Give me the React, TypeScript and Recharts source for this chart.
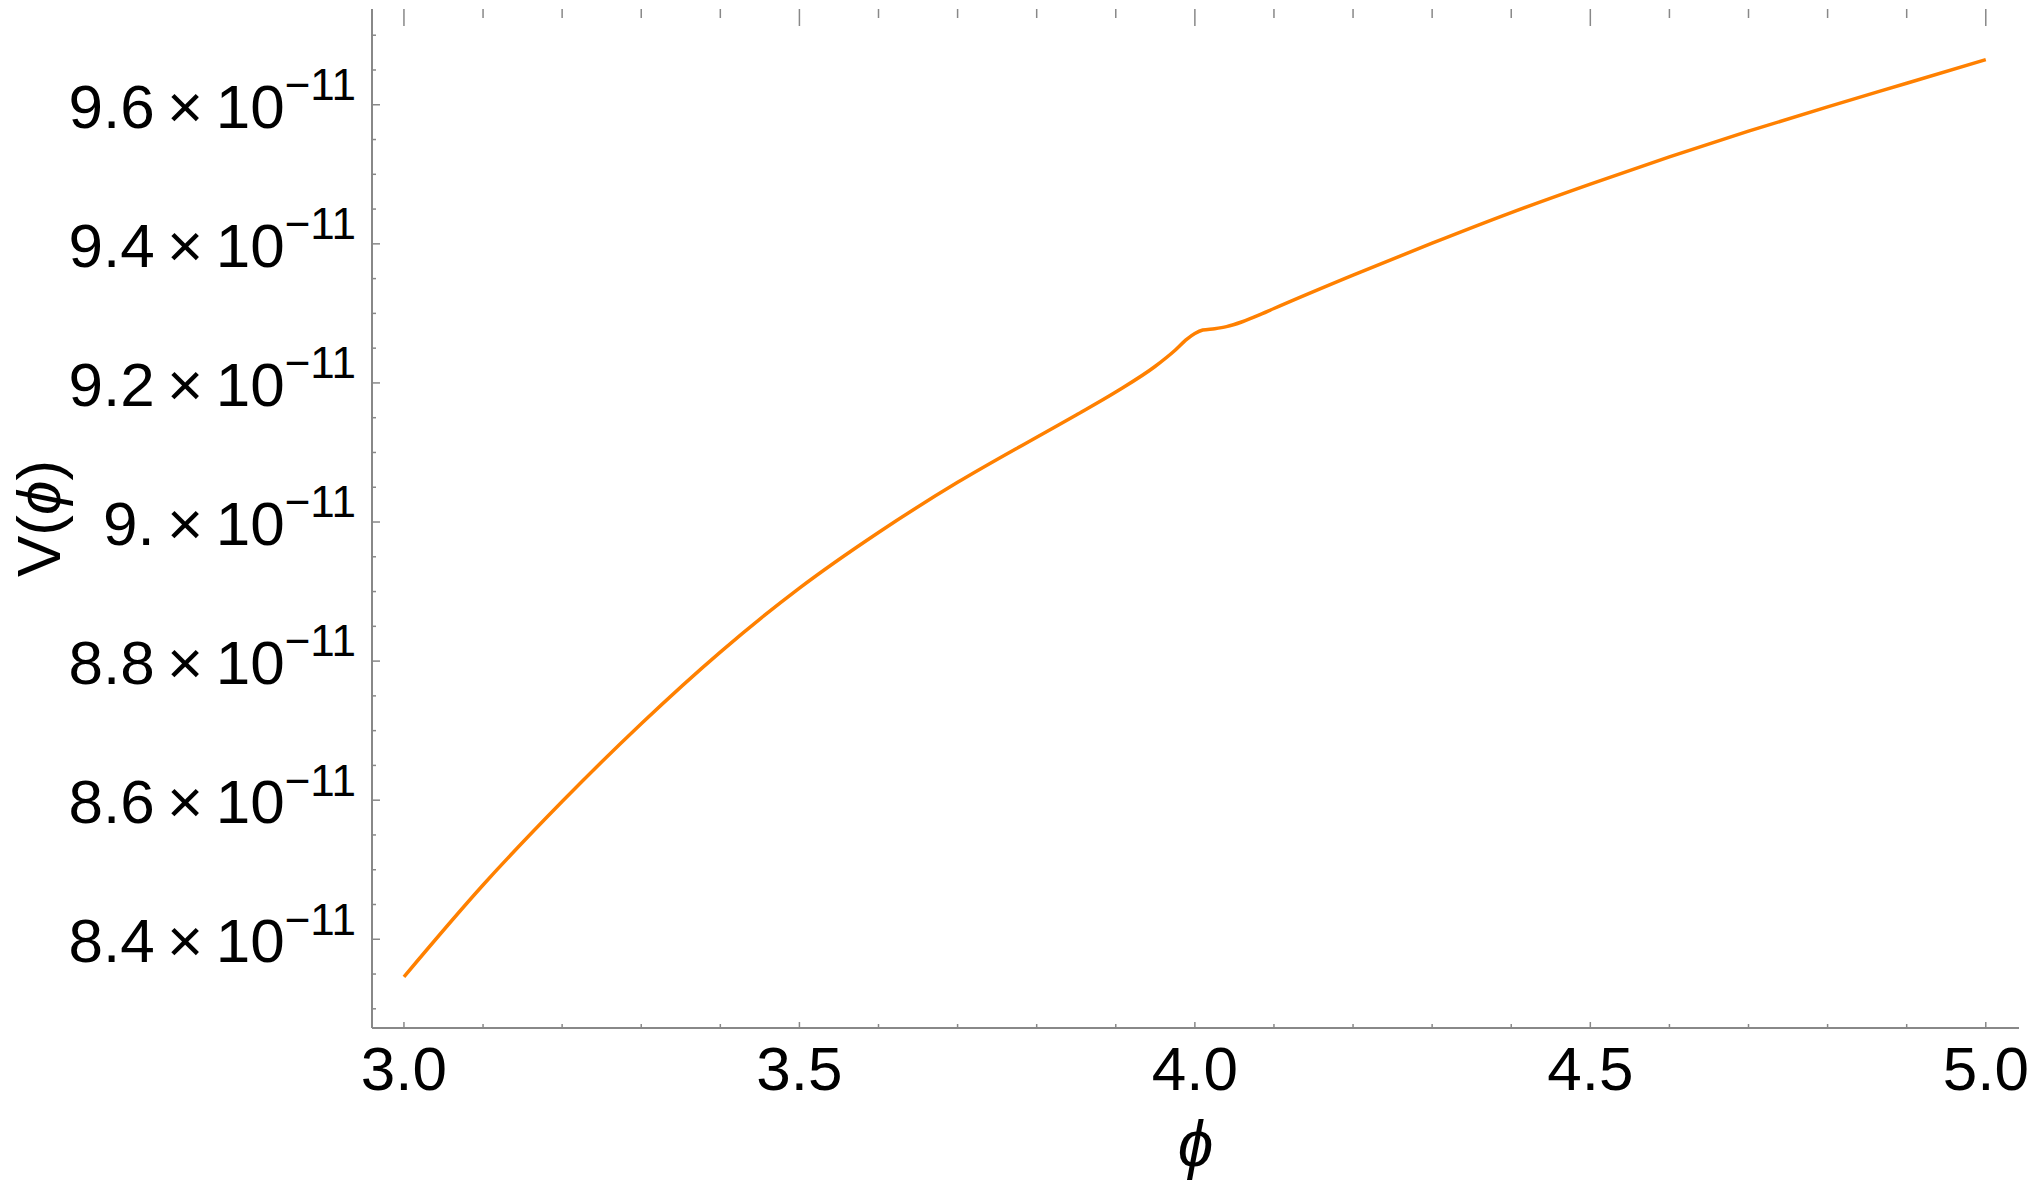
import { LineChart, Line, XAxis, YAxis } from 'recharts';

// potential V(phi), values in units of 1e-11
const phiValues = [
  3.0, 3.1, 3.2, 3.3, 3.4, 3.5, 3.6, 3.7, 3.8, 3.85, 3.9, 3.95, 3.975, 3.99,
  4.0, 4.01, 4.025, 4.04, 4.06, 4.08, 4.1, 4.2, 4.3, 4.4, 4.5, 4.6, 4.7, 4.8, 4.9, 5.0,
];
const potentialValues = [
  8.346, 8.478, 8.598, 8.71, 8.813, 8.905, 8.985, 9.057, 9.122, 9.154, 9.187, 9.224, 9.247, 9.263,
  9.271, 9.276, 9.278, 9.281, 9.288, 9.297, 9.307, 9.355, 9.401, 9.445, 9.486, 9.525, 9.562, 9.597, 9.631, 9.665,
];

const xLabels = [3.0, 3.5, 4.0, 4.5, 5.0];
const yLabels = [8.4, 8.6, 8.8, 9.0, 9.2, 9.4, 9.6];
const yRightMajor = [8.5, 8.75, 9.0, 9.25, 9.5];

const X_DOMAIN: [number, number] = [2.9596, 5.042];
const Y_DOMAIN: [number, number] = [8.2724, 9.7377];

const data = phiValues.map((phi, i) => ({ phi, v: potentialValues[i] }));

const steps = (from: number, to: number, step: number) => {
  const out: number[] = [];
  for (let v = from; v <= to + 1e-9; v += step) out.push(Math.round(v * 1000) / 1000);
  return out;
};
const xTicks = steps(3.0, 5.0, 0.1);
const yTicks = steps(8.3, 9.7, 0.05);

const has = (list: number[], v: number) => list.some((m) => Math.abs(m - v) < 1e-6);

const FONT = '"Liberation Sans", Arial, sans-serif';
const FRAME = '#888888';
const TOP = 9;

function BottomTick({ x, y, payload }: any) {
  const v = payload.value;
  const major = has(xLabels, v);
  return (
    <g>
      <line x1={x} x2={x} y1={y} y2={y - (major ? 6 : 4)} stroke={FRAME} strokeWidth={1.5} />
      <line x1={x} x2={x} y1={TOP} y2={TOP + (major ? 17 : 9)} stroke={FRAME} strokeWidth={1.5} />
      {major && (
        <text x={x} y={y + 62} textAnchor="middle" fontSize={62} fontFamily={FONT} fill="#000">
          {v.toFixed(1)}
        </text>
      )}
    </g>
  );
}

function LeftTick({ x, y, payload }: any) {
  const v = payload.value;
  const major = has(yLabels, v);
  return (
    <g>
      <line x1={x} x2={x + (major ? 8 : 4)} y1={y} y2={y} stroke={FRAME} strokeWidth={1.5} />
      {major && (
        <text x={x - 16} y={y + 23} textAnchor="end" fontSize={62} fontFamily={FONT} fill="#000">
          <tspan>{v.toFixed(1) === '9.0' ? '9.' : v.toFixed(1)}{'\u2009×\u200910'}</tspan>
          <tspan dy={-27.6} fontSize={44}>{'\u221211'}</tspan>
        </text>
      )}
    </g>
  );
}

function RightTick({ x, y, payload }: any) {
  const major = has(yRightMajor, payload.value);
  return <line x1={x} x2={x - (major ? 18 : 9)} y1={y} y2={y} stroke={FRAME} strokeWidth={1.5} />;
}

export default function App() {
  return (
    <div style={{ position: 'absolute', left: 0, top: 0, background: '#fff' }}>
      <LineChart width={2031} height={1182} data={data} margin={{ top: TOP, right: 12, bottom: 0, left: 0 }}>
        <XAxis
          dataKey="phi"
          type="number"
          domain={X_DOMAIN}
          ticks={xTicks}
          interval={0}
          allowDataOverflow
          height={154}
          tickSize={0}
          tickMargin={0}
          tickLine={false}
          tick={<BottomTick />}
          axisLine={{ stroke: FRAME, strokeWidth: 2 }}
          label={(props: any) => {
            const vb = props.viewBox;
            return (
              <text
                x={vb.x + vb.width / 2}
                y={vb.y + 138}
                textAnchor="middle"
                fontSize={64}
                fontStyle="italic"
                fontFamily={FONT}
                fill="#000"
              >
                ϕ
              </text>
            );
          }}
        />
        <XAxis
          xAxisId="top"
          orientation="top"
          type="number"
          domain={X_DOMAIN}
          allowDataOverflow
          height={0}
          tick={false}
          tickLine={false}
          axisLine={{ stroke: FRAME, strokeWidth: 2 }}
        />
        <YAxis
          type="number"
          domain={Y_DOMAIN}
          ticks={yTicks}
          interval={0}
          allowDataOverflow
          width={372}
          tickSize={0}
          tickMargin={0}
          tickLine={false}
          tick={<LeftTick />}
          axisLine={{ stroke: FRAME, strokeWidth: 2 }}
          label={(props: any) => {
            const vb = props.viewBox;
            const cx = 60;
            const cy = vb.y + vb.height / 2;
            return (
              <text
                x={cx}
                y={cy}
                transform={`rotate(-90, ${cx}, ${cy})`}
                textAnchor="middle"
                fontSize={62}
                fontFamily={FONT}
                fill="#000"
              >
                V(<tspan fontStyle="italic">ϕ</tspan>)
              </text>
            );
          }}
        />
        <YAxis
          yAxisId="right"
          orientation="right"
          type="number"
          domain={Y_DOMAIN}
          ticks={yTicks}
          interval={0}
          allowDataOverflow
          width={0}
          tickSize={0}
          tickMargin={0}
          tickLine={false}
          tick={<RightTick />}
          axisLine={{ stroke: FRAME, strokeWidth: 2 }}
        />
        <Line
          type="monotone"
          dataKey="v"
          stroke="#ff8000"
          strokeWidth={3.5}
          dot={false}
          isAnimationActive={false}
        />
      </LineChart>
    </div>
  );
}
